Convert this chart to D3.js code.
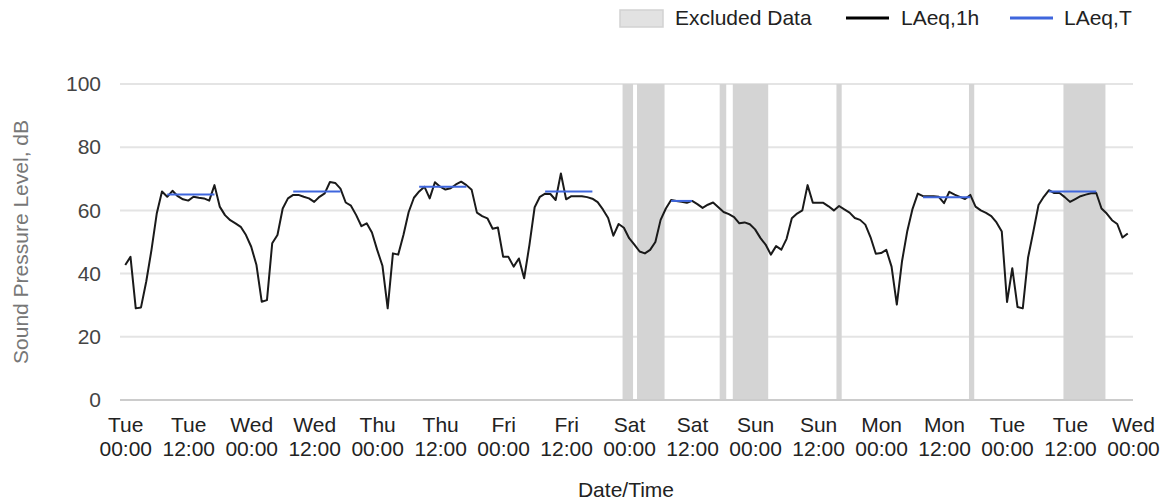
<!DOCTYPE html>
<html>
<head>
<meta charset="utf-8">
<script src="https://cdn.jsdelivr.net/npm/d3@7/dist/d3.min.js"></script>
<style>
  html, body { margin: 0; padding: 0; background: #fff; }
  svg { display: block; font-family: "Liberation Sans", Arial, sans-serif; }
</style>
</head>
<body>
<svg id="chart" width="1165" height="502"></svg>
<script>
// ---- data ----
// hourly LAeq,1h values, hour 0 = Tue 00:00
const laeq1h = [
  42.7, 45.3, 29.0, 29.3, 37.5, 47.5, 59.0, 66.0, 64.3, 66.2, 64.5, 63.5,
  63.1, 64.3, 64.0, 63.8, 63.1, 68.0, 61.2, 58.5, 56.9, 55.9, 54.8, 52.2,
  48.5, 42.7, 31.1, 31.6, 49.6, 52.2, 60.6, 63.8, 64.9, 64.9, 64.3, 63.8,
  62.7, 64.3, 65.4, 69.0, 68.7, 66.9, 62.5, 61.5, 58.5, 55.0, 55.9, 53.0,
  47.5, 42.5, 29.0, 46.4, 46.0, 52.2, 59.5, 64.0, 66.0, 67.5, 63.8, 68.9,
  67.5, 66.6, 67.0, 68.2, 69.1, 68.0, 66.5, 59.3, 58.2, 57.5, 54.2, 54.6,
  45.3, 45.3, 42.2, 44.8, 38.5, 49.0, 61.0, 64.3, 65.3, 65.2, 63.3, 71.7,
  63.5, 64.5, 64.5, 64.5, 64.2, 63.7, 62.6, 60.3, 57.6, 52.0, 55.7, 54.5,
  51.2, 49.2, 47.0, 46.4, 47.5, 50.0, 57.0, 60.6, 63.3, 63.0, 62.7, 62.4,
  63.0, 62.0, 60.8, 61.8, 62.5, 61.0, 59.5, 58.8, 57.9, 55.9, 56.2, 55.6,
  54.0, 51.3, 49.2, 46.0, 48.7, 47.6, 51.0, 57.5, 59.0, 60.0, 68.0, 62.4,
  62.4, 62.4, 61.3, 60.0, 61.4, 60.3, 59.3, 57.6, 57.0, 55.5, 51.5, 46.3,
  46.5, 47.5, 42.2, 30.2, 44.0, 53.5, 60.5, 65.3, 64.5, 64.5, 64.5, 64.3,
  62.3, 65.9, 65.0, 64.3, 63.6, 64.9, 61.2, 60.0, 59.2, 58.2, 56.2, 53.3,
  31.0, 41.7, 29.4, 29.0, 45.0, 53.2, 61.7, 64.3, 66.4, 65.5, 65.5, 64.2,
  62.7, 63.6, 64.5, 65.0, 65.4, 65.5, 60.6, 59.0, 56.9, 55.7, 51.4, 52.7
];
// LAeq,T periods (hour offsets) and values
const periodStart = [8, 32, 56, 80, 104, 152, 176];
const periodEnd   = [17, 41, 65, 89, 108, 161, 185];
const laeqT       = [65.0, 66.0, 67.5, 66.0, 63.0, 64.2, 66.0];
// excluded data ranges (hour offsets)
const exclStart = [94.75, 97.5, 113.25, 115.75, 135.5, 160.75, 178.75];
const exclEnd   = [96.75, 102.75, 114.5, 122.5, 136.5, 161.75, 186.75];
// axis ticks
const yTicks = [0, 20, 40, 60, 80, 100];
const xTickHours = d3.range(0, 193, 12);
const legendLabels = ["Excluded Data", "LAeq,1h", "LAeq,T"];

// ---- chart ----
const base = new Date(2023, 0, 3, 0, 0, 0); // a Tuesday
const t = h => new Date(base.getTime() + h * 3600 * 1000);

const svg = d3.select("#chart");
const x = d3.scaleTime().domain([t(-1), t(192)]).range([120, 1133]);
const y = d3.scaleLinear().domain([0, 100]).range([400, 84]);
const FS = 21;

// gridlines
svg.append("g").selectAll("line").data(yTicks.filter(d => d > 0)).join("line")
  .attr("x1", x.range()[0]).attr("x2", x.range()[1])
  .attr("y1", d => y(d)).attr("y2", d => y(d))
  .attr("stroke", "#e4e4e4").attr("stroke-width", 2);

// excluded bands
svg.append("g").selectAll("rect").data(exclStart.map((s, i) => [s, exclEnd[i]])).join("rect")
  .attr("x", d => x(t(d[0])))
  .attr("width", d => x(t(d[1])) - x(t(d[0])))
  .attr("y", y(100)).attr("height", y(0) - y(100))
  .attr("fill", "#d4d4d4");

// baseline
svg.append("line")
  .attr("x1", x.range()[0]).attr("x2", x.range()[1])
  .attr("y1", y(0)).attr("y2", y(0))
  .attr("stroke", "#cccccc").attr("stroke-width", 2);

// y axis labels
const yAxis = svg.append("g").attr("transform", "translate(101,0)")
  .call(d3.axisLeft(y).tickValues(yTicks).tickSize(0).tickPadding(0));
yAxis.select(".domain").remove();
yAxis.selectAll("text").attr("font-size", FS).attr("fill", "#444")
  .attr("font-family", "Liberation Sans, Arial, sans-serif");

// x axis labels (two lines)
const xAxis = svg.append("g").attr("transform", `translate(0,${y(0)})`)
  .call(d3.axisBottom(x).tickValues(xTickHours.map(t)).tickSize(0).tickFormat(""));
xAxis.select(".domain").remove();
xAxis.selectAll(".tick").each(function(d) {
  const g = d3.select(this);
  g.select("text").remove();
  const txt = g.append("text").attr("text-anchor", "middle").attr("fill", "#222")
    .attr("font-size", FS);
  txt.append("tspan").attr("x", 0).attr("y", 32).text(d3.timeFormat("%a")(d));
  txt.append("tspan").attr("x", 0).attr("y", 56).text(d3.timeFormat("%H:%M")(d));
});

// LAeq,1h line
const line = d3.line().x((d, i) => x(t(i))).y(d => y(d));
svg.append("path").datum(laeq1h)
  .attr("d", line).attr("fill", "none")
  .attr("stroke", "#1a1a1a").attr("stroke-width", 2).attr("stroke-linejoin", "round");

// LAeq,T segments
svg.append("g").selectAll("line").data(laeqT.map((v, i) => ({s: periodStart[i], e: periodEnd[i], v}))).join("line")
  .attr("x1", d => x(t(d.s))).attr("x2", d => x(t(d.e)))
  .attr("y1", d => y(d.v)).attr("y2", d => y(d.v))
  .attr("stroke", "#3f66dd").attr("stroke-width", 2);

// axis titles
svg.append("text").attr("x", 626).attr("y", 497).attr("text-anchor", "middle")
  .attr("font-size", FS).attr("fill", "#222").text("Date/Time");
svg.append("text").attr("transform", "translate(28,242) rotate(-90)")
  .attr("text-anchor", "middle").attr("font-size", FS).attr("fill", "#777")
  .text("Sound Pressure Level, dB");

// legend
const lg = svg.append("g").attr("font-size", FS).attr("fill", "#222");
const ly = 18;
lg.append("rect").attr("x", 620).attr("y", ly - 8).attr("width", 43).attr("height", 17)
  .attr("fill", "#e2e2e2").attr("stroke", "#d2d2d2").attr("stroke-width", 1.5);
lg.append("text").attr("x", 675).attr("y", ly + 7).text(legendLabels[0]);
lg.append("line").attr("x1", 846).attr("x2", 889).attr("y1", ly).attr("y2", ly)
  .attr("stroke", "#000").attr("stroke-width", 3);
lg.append("text").attr("x", 901).attr("y", ly + 7).text(legendLabels[1]);
lg.append("line").attr("x1", 1010).attr("x2", 1053).attr("y1", ly).attr("y2", ly)
  .attr("stroke", "#3f66dd").attr("stroke-width", 3);
lg.append("text").attr("x", 1064).attr("y", ly + 7).text(legendLabels[2]);
</script>
</body>
</html>
